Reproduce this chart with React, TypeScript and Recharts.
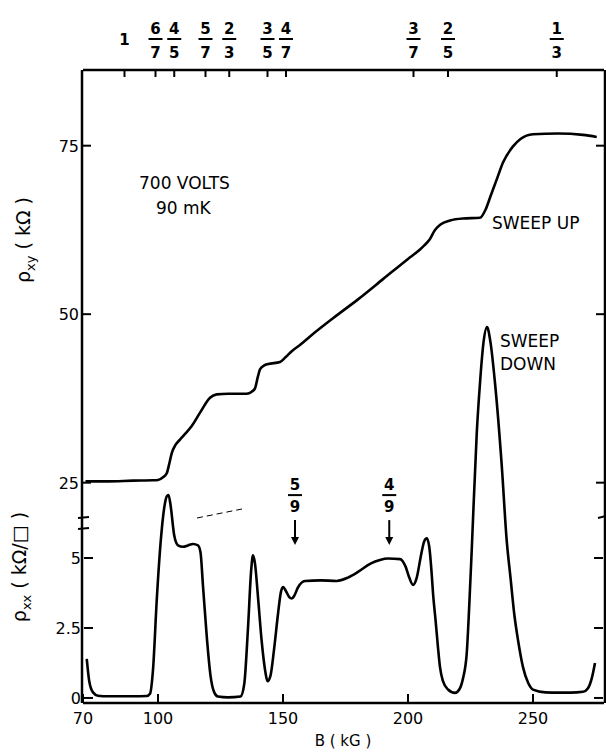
import React from "react";
import { ComposedChart, Line, XAxis, YAxis, ReferenceDot } from "recharts";

// rho_xy (sweep up), kOhm
const B_XY = [71, 80, 90, 98, 100, 102, 103.5, 104.5, 105.5, 107, 108.8, 111, 113.5, 117, 120.8, 123.5, 128, 135.5, 137.5, 138.8, 140, 140.8, 142.5, 144.1, 148.8, 151, 153.5, 157, 160.8, 170, 180, 190, 200, 204.8, 206.5, 208.5, 210.8, 213, 216.8, 222, 228.8, 231, 233, 235.5, 238, 242, 245, 250, 260, 270, 275.5];
const RHO_XY = [25.2, 25.2, 25.3, 25.35, 25.4, 25.8, 26.4, 27.8, 29.4, 30.6, 31.4, 32.3, 33.4, 35.5, 37.6, 38.1, 38.2, 38.2, 38.5, 39.0, 40.8, 41.8, 42.4, 42.6, 42.9, 43.6, 44.5, 45.5, 46.7, 49.4, 52.2, 55.2, 58.2, 59.6, 60.2, 61.0, 62.5, 63.3, 63.9, 64.2, 64.3, 65.5, 67.5, 70.0, 72.5, 74.9, 76.0, 76.7, 76.8, 76.6, 76.3];

// rho_xx (sweep down), kOhm/square
const B_XX = [71.5, 72.5, 74, 76, 80, 90, 95.5, 96.8, 98, 99.5, 101, 102.5, 103.5, 104.2, 105, 106.5, 108, 110, 112, 114, 116, 117, 118, 119.5, 121, 122.5, 124, 128, 133, 134.5, 136, 137.3, 138, 138.8, 140, 141.5, 143, 143.8, 145, 146.5, 148, 149.2, 150.1, 151, 152.5, 153.5, 154.5, 156, 158.8, 165, 171.5, 176, 180, 185, 188.8, 192, 196.8, 199, 200.5, 202, 203.5, 205, 206.5, 207.5, 208.5, 209.5, 210, 211, 212, 212.8, 214, 216, 218.8, 220.5, 222, 223.5, 224.5, 225.5, 227.5, 228.8, 230.2, 231.6, 233, 234.8, 237.5, 239.5, 241, 242.5, 244, 246, 248, 250, 255, 260, 265, 270, 272, 273.5, 274.8];
const RHO_XX = [1.4, 0.6, 0.2, 0.08, 0.06, 0.06, 0.07, 0.15, 1.0, 3.5, 5.5, 6.8, 7.2, 7.25, 6.9, 5.8, 5.45, 5.4, 5.45, 5.5, 5.45, 5.2, 4.0, 2.2, 0.8, 0.2, 0.05, 0.02, 0.05, 0.5, 2.5, 4.6, 5.1, 4.8, 3.6, 2.0, 0.9, 0.6, 0.8, 1.8, 3.0, 3.8, 3.96, 3.85, 3.6, 3.55, 3.65, 3.95, 4.18, 4.2, 4.18, 4.3, 4.5, 4.8, 4.93, 4.98, 4.96, 4.7, 4.3, 4.04, 4.3, 5.0, 5.6, 5.7, 5.4, 4.4, 3.75, 2.8, 1.8, 1.1, 0.6, 0.3, 0.18, 0.3, 0.7, 1.6, 3.3, 5.3, 9.46, 11.25, 12.7, 13.25, 12.7, 11.25, 8.3, 5.6, 4.3, 3.0, 2.07, 1.1, 0.55, 0.3, 0.2, 0.19, 0.19, 0.22, 0.35, 0.7, 1.25];

const X_TICKS = [70, 100, 150, 200, 250];
const XY_TICKS = [25, 50, 75];
const XX_TICKS = [0, 2.5, 5];

// filling factors along the top
const NU_B = [86.6, 99, 106.5, 119, 128.5, 143.8, 151.2, 202.2, 216, 259.5];
const NU_NUM = ["1", "6", "4", "5", "2", "3", "4", "3", "2", "1"];
const NU_DEN = ["", "7", "5", "7", "3", "5", "7", "7", "5", "3"];

// arrows for 5/9 and 4/9
const NINTH_B = [154.8, 192.5];
const NINTH_NUM = ["5", "4"];

const FONT = "DejaVu Sans, sans-serif";
const xyData = B_XY.map((b, i) => ({ b, v: RHO_XY[i] }));
const xxData = B_XX.map((b, i) => ({ b, v: RHO_XX[i] }));

const makeLeftTick = (dx: number) => (p: any) => (
  <g>
    <line x1={p.x + dx} x2={p.x + dx + 9} y1={p.y} y2={p.y} stroke="#000" strokeWidth={2} />
    <text x={p.x + dx - 3} y={p.y + 6} textAnchor="end" fontSize={16} fontFamily={FONT} fill="#000">
      {p.payload.value}
    </text>
  </g>
);

const makeRightTick = (dx: number) => (p: any) => (
  <line x1={p.x + dx - 9} x2={p.x + dx} y1={p.y} y2={p.y} stroke="#000" strokeWidth={2} />
);

const BottomTick = (p: any) => (
  <g>
    <line x1={p.x} x2={p.x} y1={p.y} y2={p.y - 9} stroke="#000" strokeWidth={2} />
    <text x={p.x} y={p.y + 21} textAnchor="middle" fontSize={16} fontFamily={FONT} fill="#000">
      {p.payload.value}
    </text>
  </g>
);

const TopTick = (p: any) => {
  const i = p.index;
  const num = NU_NUM[i];
  const den = NU_DEN[i];
  return (
    <g>
      <line x1={p.x} x2={p.x} y1={p.y} y2={p.y + 7} stroke="#000" strokeWidth={2} />
      {den ? (
        <g>
          <text x={p.x} y={p.y - 36} textAnchor="middle" fontSize={15} fontWeight="bold" fontFamily={FONT} fill="#000">{num}</text>
          <line x1={p.x - 7} x2={p.x + 7} y1={p.y - 31} y2={p.y - 31} stroke="#000" strokeWidth={2} />
          <text x={p.x} y={p.y - 12} textAnchor="middle" fontSize={15} fontWeight="bold" fontFamily={FONT} fill="#000">{den}</text>
        </g>
      ) : (
        <text x={p.x} y={p.y - 25} textAnchor="middle" fontSize={15} fontWeight="bold" fontFamily={FONT} fill="#000">{num}</text>
      )}
    </g>
  );
};

const NinthMark = (num: string) => (p: any) => (
  <g>
    <text x={p.cx} y={p.cy - 55} textAnchor="middle" fontSize={15} fontWeight="bold" fontFamily={FONT} fill="#000">{num}</text>
    <line x1={p.cx - 7} x2={p.cx + 7} y1={p.cy - 50} y2={p.cy - 50} stroke="#000" strokeWidth={2} />
    <text x={p.cx} y={p.cy - 33} textAnchor="middle" fontSize={15} fontWeight="bold" fontFamily={FONT} fill="#000">9</text>
    <line x1={p.cx} x2={p.cx} y1={p.cy - 25} y2={p.cy - 6} stroke="#000" strokeWidth={2} />
    <path d={`M${p.cx - 4},${p.cy - 8} L${p.cx + 4},${p.cy - 8} L${p.cx},${p.cy} Z`} fill="#000" />
  </g>
);

const txt = { fontFamily: FONT, fontSize: 17, fill: "#000" };
const AX = { stroke: "#000", strokeWidth: 2.5 };

export default function App() {
  return (
    <div style={{ position: "absolute", left: 0, top: 0, width: 606, height: 752, background: "#fff" }}>
      <ComposedChart width={606} height={752} margin={{ top: 69, right: 0, bottom: 48, left: 81 }}>
        <XAxis xAxisId="b" dataKey="b" type="number" domain={[70, 278.4]} allowDataOverflow ticks={X_TICKS}
          height={1} tickSize={0} tickMargin={0} tick={BottomTick} axisLine={AX} tickLine={false} interval={0} />
        <XAxis xAxisId="t" orientation="top" dataKey="b" type="number" domain={[70, 278.4]} allowDataOverflow ticks={NU_B}
          height={1} tickSize={0} tickMargin={0} tick={TopTick} axisLine={AX} tickLine={false} interval={0} />
        <YAxis yAxisId="xy" type="number" domain={[-7.69, 86.23]} allowDataOverflow ticks={XY_TICKS}
          width={1} tickSize={0} tickMargin={0} tick={makeLeftTick(0)} axisLine={AX} tickLine={false} interval={0} />
        <YAxis yAxisId="xx" type="number" domain={[-0.18, 22.43]} allowDataOverflow ticks={XX_TICKS}
          width={1} tickSize={0} tickMargin={0} tick={makeLeftTick(1)} axisLine={false} tickLine={false} interval={0} />
        <YAxis yAxisId="xyR" orientation="right" type="number" domain={[-7.69, 86.23]} allowDataOverflow ticks={XY_TICKS}
          width={1} tickSize={0} tickMargin={0} tick={makeRightTick(0)} axisLine={AX} tickLine={false} interval={0} />
        <YAxis yAxisId="xxR" orientation="right" type="number" domain={[-0.18, 22.43]} allowDataOverflow ticks={XX_TICKS}
          width={1} tickSize={0} tickMargin={0} tick={makeRightTick(-1)} axisLine={false} tickLine={false} interval={0} />

        <Line data={xyData} xAxisId="b" yAxisId="xy" dataKey="v" type="monotone" dot={false}
          stroke="#000" strokeWidth={2.6} isAnimationActive={false} />
        <Line data={xxData} xAxisId="b" yAxisId="xx" dataKey="v" type="monotone" dot={false}
          stroke="#000" strokeWidth={2.6} isAnimationActive={false} />

        {NINTH_B.map((b, i) => (
          <ReferenceDot key={b} xAxisId="b" yAxisId="xx" x={b} y={5.46} r={0} shape={NinthMark(NINTH_NUM[i])} />
        ))}

        {/* axis break marks */}
        <line x1={78} x2={89} y1={518} y2={517} stroke="#000" strokeWidth={2} />
        <line x1={78} x2={89} y1={529} y2={528} stroke="#000" strokeWidth={2} />
        <line x1={598} x2={606} y1={518} y2={516} stroke="#000" strokeWidth={2} />
        <line x1={197} x2={242} y1={518} y2={509} stroke="#000" strokeWidth={1} strokeDasharray="6 4" />

        {/* axis titles */}
        <text transform="rotate(-90 30 240)" x={30} y={240} textAnchor="middle" {...txt} fontSize={19}>
          ρ<tspan dy={5} fontSize={13}>xy</tspan><tspan dy={-5}> ( kΩ )</tspan>
        </text>
        <text transform="rotate(-90 26 567)" x={26} y={567} textAnchor="middle" {...txt} fontSize={19}>
          ρ<tspan dy={5} fontSize={13}>xx</tspan><tspan dy={-5}> ( kΩ/□ )</tspan>
        </text>
        <text x={343} y={746} textAnchor="middle" {...txt} fontSize={15}>B ( kG )</text>

        {/* annotations */}
        <text x={139} y={189} {...txt}>700 VOLTS</text>
        <text x={156} y={214} {...txt}>90 mK</text>
        <text x={492} y={229} {...txt}>SWEEP UP</text>
        <text x={500} y={347} {...txt}>SWEEP</text>
        <text x={500} y={370} {...txt}>DOWN</text>
      </ComposedChart>
    </div>
  );
}
